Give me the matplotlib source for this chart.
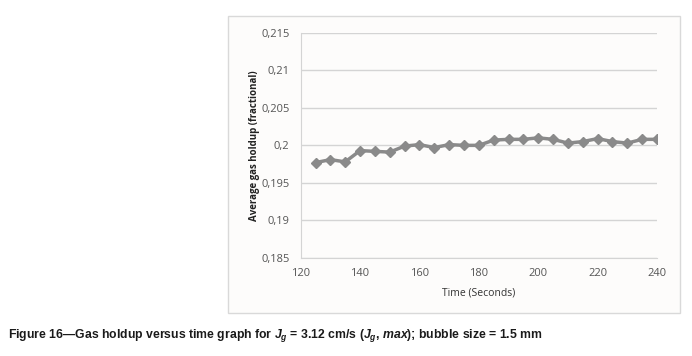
import matplotlib
matplotlib.use('Agg')
import matplotlib.pyplot as plt
from matplotlib.patches import Rectangle

# data
time_s = [125, 130, 135, 140, 145, 150, 155, 160, 165, 170, 175, 180,
          185, 190, 195, 200, 205, 210, 215, 220, 225, 230, 235, 240]
holdup = [0.1977, 0.1981, 0.1978, 0.1993, 0.1992, 0.1991, 0.1999, 0.2001,
          0.1997, 0.2001, 0.2000, 0.2000, 0.2007, 0.2008, 0.2008, 0.2010,
          0.2008, 0.2003, 0.2005, 0.2009, 0.2005, 0.2003, 0.2008, 0.2008]
x_ticks = [120, 140, 160, 180, 200, 220, 240]
y_ticks = [0.185, 0.19, 0.195, 0.2, 0.205, 0.21, 0.215]
y_labels = ['0,185', '0,19', '0,195', '0,2', '0,205', '0,21', '0,215']

plt.rcParams['font.family'] = ['Open Sans', 'DejaVu Sans']
plt.rcParams['mathtext.fontset'] = 'custom'
plt.rcParams['mathtext.it'] = 'Liberation Sans:italic:bold'
plt.rcParams['mathtext.rm'] = 'Liberation Sans:bold'

fig = plt.figure(figsize=(6.92, 3.56), dpi=100)
fig.patch.set_facecolor('white')

# chart frame
fig.patches.append(Rectangle((228 / 692, 1 - 313 / 356), (680 - 228) / 692, (313 - 16) / 356,
                             transform=fig.transFigure, facecolor='#fdfcfb',
                             edgecolor='#d9d9d9', linewidth=1.0, zorder=-10))

ax = fig.add_axes([0.4345, 0.2753, 0.5149, 0.6328])
ax.set_facecolor('none')
ax.plot(time_s, holdup, color='#8a8a8a', linewidth=2.5, marker='D',
        markersize=5, markerfacecolor='#8a8a8a', markeredgecolor='#8a8a8a', zorder=3)

ax.set_xlim(120, 240)
ax.set_ylim(0.185, 0.215)
ax.set_xticks(x_ticks)
ax.set_yticks(y_ticks)
ax.set_yticklabels(y_labels)
ax.yaxis.grid(True, color='#d4d4d4', linewidth=1.0)
ax.set_axisbelow(True)
for s in ['top', 'right']:
    ax.spines[s].set_visible(False)
ax.spines['left'].set_color('#d4d4d4')
ax.spines['bottom'].set_color('#d4d4d4')
ax.tick_params(length=0, labelsize=8, colors='#555555', pad=8)
ax.tick_params(axis='x', pad=7)

ax.set_xlabel('Time (Seconds)', fontsize=7.5, color='#333333', labelpad=6)
ax.set_ylabel('Average gas holdup (fractional)', fontsize=7, fontweight='bold',
              color='#222222', labelpad=0.5)

fig.text(0.012, 1 - 336 / 356,
         'Figure 16\u2014Gas holdup versus time graph for $J_g$ = 3.12 cm/s ($J_g$, $max$); bubble size = 1.5 mm',
         family=['Liberation Sans', 'DejaVu Sans'], fontweight='bold',
         fontsize=8.8, color='#1a1a1a', va='center')

fig.savefig('out.png', dpi=100)
